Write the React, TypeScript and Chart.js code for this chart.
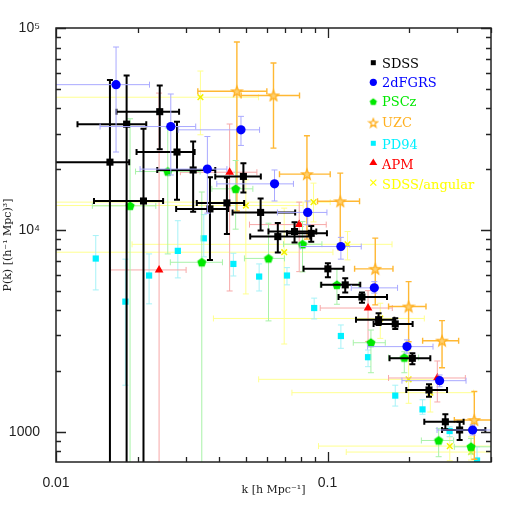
import { useEffect, useRef } from 'react';
import { Chart, registerables } from 'chart.js';

Chart.register(...registerables);

// ---------- axis ranges & ticks ----------
const X_MIN = 0.01;
const X_MAX = 0.4;
const Y_MIN = 708;
const Y_MAX = 100000;
const X_LABEL_TICKS = [0.01, 0.1];
const X_LABELS = ['0.01', '0.1'];
const Y_LABEL_TICKS = [1000, 10000, 100000];
const Y_LABELS = ['1000', '10⁴', '10⁵'];
const X_MAJOR = [0.01, 0.1];
const X_MINOR = [0.02, 0.03, 0.04, 0.05, 0.06, 0.07, 0.08, 0.09, 0.2, 0.3, 0.4];
const Y_MAJOR = [1000, 10000, 100000];
const Y_MINOR = [800, 900, 2000, 3000, 4000, 5000, 6000, 7000, 8000, 9000,
  20000, 30000, 40000, 50000, 60000, 70000, 80000, 90000];
const X_TITLE = 'k [h Mpc⁻¹]';
const Y_TITLE = 'P(k) [(h⁻¹ Mpc)³]';

// ---------- data rows: [k, P, kLow, kHigh, PLow, PHigh] ----------
const SDSS: (number | null)[][] = [
  [0.0158, 21650, 0.0095, 0.0186, 500, 55200],
  [0.0182, 33400, 0.0120, 0.0215, 500, 58200],
  [0.0210, 13900, 0.0138, 0.0248, 500, 31700],
  [0.0241, 38500, 0.0167, 0.0284, 25100, 51900],
  [0.0279, 24300, 0.0198, 0.0324, 14100, 34300],
  [0.0320, 19800, 0.0236, 0.0386, 12300, 27400],
  [0.0369, 12700, 0.0277, 0.0431, 7100, 18200],
  [0.0426, 13600, 0.0330, 0.0493, 9550, 18100],
  [0.0490, 18400, 0.0386, 0.0568, 15300, 21400],
  [0.0567, 12200, 0.0447, 0.0760, 9920, 14300],
  [0.0656, 9260, 0.0519, 0.0864, 7720, 10800],
  [0.0756, 9810, 0.0606, 0.0909, 8650, 10900],
  [0.0871, 9610, 0.0709, 0.0995, 8720, 10460],
  [0.1003, 6410, 0.0816, 0.1146, 5830, 6840],
  [0.1162, 5340, 0.0948, 0.1320, 4890, 5760],
  [0.1339, 4650, 0.1098, 0.1656, 4360, 4890],
  [0.1542, 3590, 0.1273, 0.1762, 3380, 3860],
  [0.1776, 3420, 0.1478, 0.2058, 3230, 3650],
  [0.2053, 2310, 0.1692, 0.2391, 2160, 2450],
  [0.2364, 1610, 0.1950, 0.2755, 1490, 1720],
  [0.2716, 1120, 0.2272, 0.3171, 1030, 1220],
  [0.3066, 1020, 0.2641, 0.3813, 910, 1120],
];

const TWODF: (number | null)[][] = [
  [0.01664, 52400, 0.0093, 0.0221, 24300, 80500],
  [0.02647, 32500, 0.01453, 0.0327, 18700, 47100],
  [0.0361, 20000, 0.0204, 0.0426, 12100, 29000],
  [0.0480, 31300, 0.0282, 0.0562, 26200, 36500],
  [0.0638, 16900, 0.0391, 0.0749, 13900, 19800],
  [0.0845, 12200, 0.0654, 0.0995, 10600, 13900],
  [0.1120, 8270, 0.0793, 0.1331, 7160, 9180],
  [0.1487, 5160, 0.1223, 0.1811, 4860, 5540],
  [0.1962, 2640, 0.1405, 0.2446, 2450, 2850],
  [0.2587, 1790, 0.1880, 0.3237, 1670, 1910],
  [0.3423, 1020, 0.2531, 0.4152, 963, 1080],
];

const PSCZ: (number | null)[][] = [
  [0.01874, 13150, 0.01361, 0.02331, 500, 35500],
  [0.0258, 19450, 0.01963, 0.03395, 7600, 32000],
  [0.03443, 6910, 0.02637, 0.04102, 500, 15400],
  [0.04588, 15970, 0.03749, 0.05309, 10080, 22060],
  [0.06062, 7220, 0.04943, 0.06943, 3540, 10790],
  [0.08088, 8490, 0.06884, 0.09537, 6190, 10990],
  [0.1083, 5340, 0.0940, 0.1301, 4280, 6380],
  [0.1445, 2760, 0.1244, 0.1632, 1960, 3190],
  [0.1918, 2330, 0.1678, 0.2165, 1960, 2490],
  [0.2566, 905, 0.2216, 0.2914, 752, 1039],
  [0.3377, 842, 0.2931, 0.4152, 775, 927],
];

const UZC: (number | null)[][] = [
  [0.04636, 48600, 0.03329, 0.05978, 12420, 85220],
  [0.06324, 46340, 0.04807, 0.07886, 25410, 67050],
  [0.08398, 18880, 0.06654, 0.1023, 9000, 29240],
  [0.1114, 13850, 0.09187, 0.1312, 7958, 19100],
  [0.1499, 6410, 0.1258, 0.1742, 4250, 9100],
  [0.1989, 4170, 0.1678, 0.2305, 2790, 5540],
  [0.2641, 2825, 0.2240, 0.3040, 2076, 3551],
  [0.3472, 1143, 0.2931, 0.4047, 730, 1582],
];

const PD94: (number | null)[][] = [
  [0.01401, 7210, null, null, 5040, 9370],
  [0.01801, 4410, null, null, 1700, 7160],
  [0.02202, 5940, null, null, 4300, 7600],
  [0.0281, 7870, null, null, 5780, 11100],
  [0.03502, 9080, null, null, 7350, 11900],
  [0.0450, 6780, null, null, 5910, 7660],
  [0.0560, 5870, null, null, 4980, 6780],
  [0.0709, 5940, null, null, 5340, 6500],
  [0.0893, 4100, null, null, 3620, 4590],
  [0.1120, 2980, null, null, 2590, 3380],
  [0.1410, 2340, null, null, 2100, 2540],
  [0.1776, 1510, null, null, 1340, 1700],
  [0.2238, 1290, null, null, 1220, 1440],
  [0.2816, 1008, null, null, 945, 1058],
  [0.3553, 720, null, null, 500, 842],
];

const APM: (number | null)[][] = [
  [0.02397, 6330, 0.01585, 0.03014, 500, 47600],
  [0.0436, 19300, 0.02871, 0.05493, 4980, 33450],
  [0.07866, 10620, 0.05159, 0.09891, 6210, 13720],
  [0.1410, 4100, 0.0940, 0.1732, 2800, 5000],
  [0.2537, 1846, 0.1678, 0.3218, 1404, 2241],
];

const SDSS_ANG: (number | null)[][] = [
  [0.03403, 45400, 0.008, 0.05568, 29580, 61210],
  [0.05003, 13200, 0.008, 0.0813, 4815, 17700],
  [0.0888, 13720, 0.008, 0.1023, 10950, 17040],
  [0.06925, 7750, 0.008, 0.1047, 2720, 12810],
  [0.1185, 8480, 0.01906, 0.1728, 7100, 9810],
  [0.1564, 3640, 0.0380, 0.2272, 2900, 4330],
  [0.1989, 1818, 0.05577, 0.2531, 1383, 2541],
  [0.2391, 1561, 0.07394, 0.3452, 1252, 1704],
  [0.2820, 849, 0.09265, 0.41, 718, 944],
  [0.3377, 793, 0.1172, 0.41, 724, 944],
];

const LEGEND_LABELS = ['SDSS', '2dFGRS', 'PSCz', 'UZC', 'PD94', 'APM', 'SDSS/angular'];

// ---------- colours ----------
const C_BLACK = '#000000';
const C_BLUE = '#0000ff';
const C_GREEN = '#00e800';
const C_ORANGE = '#ffb020';
const C_CYAN = '#00f0ff';
const C_RED = '#ff0000';
const C_YELLOW = '#ffff00';
const AXIS = '#222222';

function makeStar(outer: number, fill: string, stroke: string) {
  const s = 2 * Math.ceil(outer + 1.5);
  const c = document.createElement('canvas');
  c.width = s; c.height = s;
  const g = c.getContext('2d')!;
  g.translate(s / 2, s / 2 + 0.5);
  g.beginPath();
  for (let i = 0; i < 10; i++) {
    const r = i % 2 === 0 ? outer : outer * 0.42;
    const a = -Math.PI / 2 + (i * Math.PI) / 5;
    g.lineTo(r * Math.cos(a), r * Math.sin(a));
  }
  g.closePath();
  g.fillStyle = fill; g.fill();
  g.strokeStyle = stroke; g.lineWidth = 1.3; g.stroke();
  return c;
}

function makePentagon(r: number, fill: string) {
  const s = 2 * Math.ceil(r + 1);
  const c = document.createElement('canvas');
  c.width = s; c.height = s;
  const g = c.getContext('2d')!;
  g.translate(s / 2, s / 2 + 0.3);
  g.beginPath();
  for (let i = 0; i < 5; i++) {
    const a = -Math.PI / 2 + (i * 2 * Math.PI) / 5;
    g.lineTo(r * Math.cos(a), r * Math.sin(a));
  }
  g.closePath();
  g.fillStyle = fill; g.fill();
  return c;
}

const errorBarPlugin = {
  id: 'errorBars',
  beforeDatasetDraw(chart: any, args: any) {
    const ds = chart.data.datasets[args.index];
    const rows = ds.rows as (number | null)[][];
    if (!rows) return;
    const { ctx, chartArea: a } = chart;
    const xs = chart.scales.x;
    const ys = chart.scales.y;
    ctx.save();
    ctx.beginPath();
    ctx.rect(a.left, a.top, a.right - a.left, a.bottom - a.top);
    ctx.clip();
    ctx.strokeStyle = ds.errColor;
    ctx.lineWidth = ds.errWidth;
    const cap = ds.capHalf;
    for (const r of rows) {
      const [k, p, kl, kh, pl, ph] = r;
      const px = xs.getPixelForValue(k);
      const py = ys.getPixelForValue(p);
      ctx.beginPath();
      if (kl != null && kh != null) {
        const x1 = xs.getPixelForValue(kl);
        const x2 = xs.getPixelForValue(kh);
        ctx.moveTo(x1, py); ctx.lineTo(x2, py);
        ctx.moveTo(x1, py - cap); ctx.lineTo(x1, py + cap);
        ctx.moveTo(x2, py - cap); ctx.lineTo(x2, py + cap);
      }
      if (pl != null && ph != null) {
        const y1 = ys.getPixelForValue(pl);
        const y2 = ys.getPixelForValue(ph);
        ctx.moveTo(px, y1); ctx.lineTo(px, y2);
        ctx.moveTo(px - cap, y1); ctx.lineTo(px + cap, y1);
        ctx.moveTo(px - cap, y2); ctx.lineTo(px + cap, y2);
      }
      ctx.stroke();
    }
    ctx.restore();
  },
};

const framePlugin = {
  id: 'frameTicks',
  afterDraw(chart: any) {
    const { ctx, chartArea: a } = chart;
    const xs = chart.scales.x;
    const ys = chart.scales.y;
    ctx.save();
    ctx.strokeStyle = AXIS;
    ctx.lineWidth = 1.3;
    ctx.beginPath();
    const xt = (vals: number[], len: number) => {
      for (const v of vals) {
        const x = Math.round(xs.getPixelForValue(v)) + 0.5;
        ctx.moveTo(x, a.bottom); ctx.lineTo(x, a.bottom - len);
        ctx.moveTo(x, a.top); ctx.lineTo(x, a.top + len);
      }
    };
    const yt = (vals: number[], len: number) => {
      for (const v of vals) {
        const y = Math.round(ys.getPixelForValue(v)) + 0.5;
        ctx.moveTo(a.left, y); ctx.lineTo(a.left + len, y);
        ctx.moveTo(a.right, y); ctx.lineTo(a.right - len, y);
      }
    };
    xt(X_MAJOR, 10); xt(X_MINOR, 5);
    yt(Y_MAJOR, 10); yt(Y_MINOR, 5);
    ctx.stroke();
    ctx.lineWidth = 1.5;
    ctx.strokeRect(a.left, a.top, a.right - a.left, a.bottom - a.top);
    ctx.restore();
  },
};

export default function App() {
  const ref = useRef<HTMLCanvasElement | null>(null);

  useEffect(() => {
    document.body.style.margin = '0';
    const canvas = ref.current;
    if (!canvas) return;

    const star = makeStar(5.5, '#ffd070', C_ORANGE);
    const starHollow = makeStar(4.5, '#ffffff', C_ORANGE);
    const pent = makePentagon(4.8, C_GREEN);
    const pentSmall = makePentagon(3.8, C_GREEN);

    const legendPlugin = {
      id: 'customLegend',
      afterDraw(chart: any) {
        const { ctx } = chart;
        const colors = [C_BLACK, C_BLUE, C_GREEN, C_ORANGE, C_CYAN, C_RED, C_YELLOW];
        const textY = [64.3, 83.5, 102.8, 124, 145.5, 165.7, 185.7];
        const markY = [62.7, 82.3, 101.7, 122.7, 143.3, 162, 182.7];
        const mx = 373.3;
        ctx.save();
        ctx.font = '13px "DejaVu Serif"';
        ctx.textBaseline = 'middle';
        ctx.textAlign = 'left';
        LEGEND_LABELS.forEach((lab, i) => {
          ctx.fillStyle = colors[i];
          ctx.fillText(lab, 382, textY[i]);
          const y = markY[i];
          ctx.fillStyle = colors[i];
          ctx.strokeStyle = colors[i];
          if (i === 0 || i === 4) {
            ctx.fillRect(mx - 2.5, y - 2.5, 5, 5);
          } else if (i === 1) {
            ctx.beginPath(); ctx.arc(mx, y, 3.6, 0, Math.PI * 2); ctx.fill();
          } else if (i === 2) {
            ctx.drawImage(pentSmall, mx - pentSmall.width / 2, y - pentSmall.height / 2);
          } else if (i === 3) {
            ctx.drawImage(starHollow, mx - starHollow.width / 2, y - starHollow.height / 2);
          } else if (i === 5) {
            ctx.beginPath(); ctx.moveTo(mx, y - 3.5); ctx.lineTo(mx + 4, y + 3); ctx.lineTo(mx - 4, y + 3);
            ctx.closePath(); ctx.fill();
          } else {
            ctx.lineWidth = 1.2;
            ctx.beginPath(); ctx.moveTo(mx - 3, y - 3); ctx.lineTo(mx + 3, y + 3);
            ctx.moveTo(mx + 3, y - 3); ctx.lineTo(mx - 3, y + 3); ctx.stroke();
          }
        });
        ctx.restore();
      },
    };

    const toXY = (rows: (number | null)[][]) => rows.map((r) => ({ x: r[0] as number, y: r[1] as number }));

    const datasets: any[] = [
      {
        label: 'SDSS', data: toXY(SDSS), rows: SDSS, order: 1,
        pointStyle: 'rect', pointRadius: 5, backgroundColor: C_BLACK, borderWidth: 0,
        errColor: C_BLACK, errWidth: 2, capHalf: 3,
      },
      {
        label: '2dFGRS', data: toXY(TWODF), rows: TWODF, order: 0,
        pointStyle: 'circle', pointRadius: 4.6, backgroundColor: C_BLUE, borderWidth: 0,
        errColor: '#a9a9ff', errWidth: 1, capHalf: 3,
      },
      {
        label: 'PSCz', data: toXY(PSCZ), rows: PSCZ, order: 2,
        pointStyle: pent, pointRadius: 5, backgroundColor: C_GREEN, borderWidth: 0,
        errColor: '#a8f2a8', errWidth: 1, capHalf: 3,
      },
      {
        label: 'UZC', data: toXY(UZC), rows: UZC, order: 3,
        pointStyle: star, pointRadius: 6, backgroundColor: C_ORANGE, borderWidth: 0,
        errColor: '#ffb833', errWidth: 1.4, capHalf: 3,
      },
      {
        label: 'PD94', data: toXY(PD94), rows: PD94, order: 5,
        pointStyle: 'rect', pointRadius: 4.4, backgroundColor: C_CYAN, borderWidth: 0,
        errColor: '#a6f2f7', errWidth: 1, capHalf: 3,
      },
      {
        label: 'APM', data: toXY(APM), rows: APM, order: 4,
        pointStyle: 'triangle', pointRadius: 5, backgroundColor: C_RED, borderWidth: 0,
        errColor: '#f7a8a8', errWidth: 1, capHalf: 3,
      },
      {
        label: 'SDSS/angular', data: toXY(SDSS_ANG), rows: SDSS_ANG, order: 6,
        pointStyle: 'crossRot', pointRadius: 4, backgroundColor: C_YELLOW, borderColor: '#f2f200',
        borderWidth: 1.5, errColor: '#ffff90', errWidth: 1, capHalf: 3,
      },
    ];

    const chart = new Chart(canvas, {
      type: 'scatter',
      data: { datasets },
      options: {
        animation: false,
        responsive: false,
        events: [],
        layout: { padding: { top: 28, right: 27, left: 0, bottom: 0 } },
        plugins: { legend: { display: false }, tooltip: { enabled: false } },
        scales: {
          x: {
            type: 'logarithmic',
            position: 'bottom',
            min: X_MIN,
            max: X_MAX,
            grid: { display: false },
            border: { display: false },
            afterBuildTicks: (s: any) => { s.ticks = X_LABEL_TICKS.map((v) => ({ value: v })); },
            afterFit: (s: any) => { s.height = 56; },
            ticks: {
              autoSkip: false, maxRotation: 0, padding: 5, color: AXIS,
              font: { family: 'Liberation Sans', size: 14 },
              callback: (_v: any, i: number) => X_LABELS[i],
            },
            title: {
              display: true, text: X_TITLE, color: AXIS,
              font: { family: 'DejaVu Serif', size: 11 },
              padding: { top: 0, bottom: 21 },
            },
          },
          y: {
            type: 'logarithmic',
            position: 'left',
            min: Y_MIN,
            max: Y_MAX,
            grid: { display: false },
            border: { display: false },
            afterBuildTicks: (s: any) => { s.ticks = Y_LABEL_TICKS.map((v) => ({ value: v })); },
            afterFit: (s: any) => { s.width = 56; },
            ticks: {
              autoSkip: false, padding: 8, color: AXIS,
              font: { family: 'Liberation Sans', size: 14 },
              callback: (_v: any, i: number) => Y_LABELS[i],
            },
            title: {
              display: true, text: Y_TITLE, color: AXIS,
              font: { family: 'DejaVu Serif', size: 11 },
              padding: { top: 2, bottom: 0 },
            },
          },
        },
      } as any,
      plugins: [errorBarPlugin, framePlugin, legendPlugin],
    });

    return () => chart.destroy();
  }, []);

  return (
    <div style={{ width: 518, height: 518 }}>
      <canvas ref={ref} width={518} height={518} style={{ display: 'block' }} />
    </div>
  );
}
